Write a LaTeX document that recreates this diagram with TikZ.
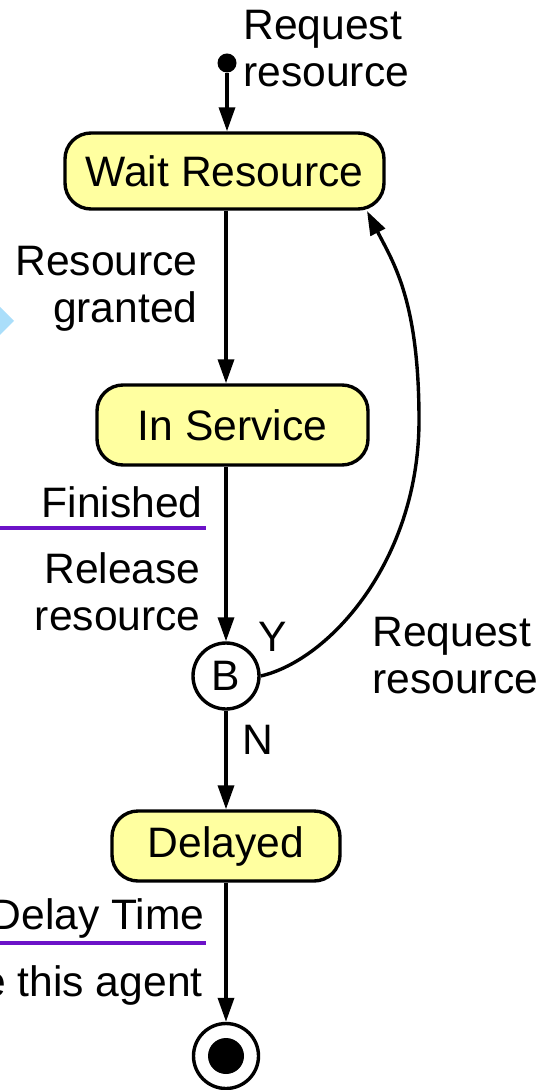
\documentclass[tikz,border=0pt]{standalone}
\usepackage{fontspec}
\setmainfont{Liberation Sans}
\usetikzlibrary{arrows.meta}
\definecolor{stateyellow}{RGB}{255,255,160}
\definecolor{guardpurple}{RGB}{108,18,200}
\definecolor{portblue}{RGB}{170,222,250}
\begin{document}
\begin{tikzpicture}[x=0.5pt,y=-0.5pt,
  font=\fontsize{21.3}{23.5}\selectfont,
  state/.style={draw,line width=1.7pt,fill=stateyellow,rounded corners=13pt,inner sep=0pt},
  branch/.style={draw,circle,line width=1.7pt,inner sep=0pt},
  flow/.style={line width=1.7pt,-{Triangle[length=12pt,width=8pt]}},
  guard/.style={draw=guardpurple,line width=1.6pt},
  lbl/.style={inner sep=0pt}]
\useasboundingbox (0,0) rectangle (552,1090);
\clip (0,0) rectangle (552,1090);

% port marker at the left border
\fill[portblue] (0,307) -- (14,321) -- (0,335) -- cycle;

% states
\node[fill,circle,inner sep=0pt,minimum size=9.5pt] (init) at (227,63) {};
\node[state,minimum width=159.5pt,minimum height=38pt] (wait) at (224.5,171) {Wait Resource};
\node[state,minimum width=135.5pt,minimum height=40pt] (serv) at (232.5,425) {In Service};
\node[branch,minimum size=33pt] (b) at (226,676) {B};
\node[state,minimum width=114pt,minimum height=35pt] (delay) at (226,846) {Delayed};
\node[branch,minimum size=32.5pt] (fin) at (226,1056) {};
\fill (fin) circle (9pt);
\coordinate (waitin) at (367,211);

% transitions
\draw[flow] (init) -- (init |- wait.north);
\draw[flow] (wait.south -| b) -- (serv.north -| b);
\draw[flow] (serv.south -| b) -- (b);
\draw[flow] (b) -- (delay);
\draw[flow] (delay) -- (fin);
\draw[flow] (b.east) .. controls (330,660) and (419,560) .. (419,420)
  .. controls (419,300) and (393,262) .. (waitin);

% labels
\node[lbl,anchor=west,align=left] (lreq) at (243,49) {Request\\resource};
\node[lbl,anchor=east,align=right] (lgrant) at (198,289) {Resource\\granted};
\node[lbl,anchor=east] (lfin) at (203,502) {Finished};
\draw[guard] (0,528) -- (206,528);
\node[lbl,anchor=east,align=right] (lrel) at (201,592) {Release\\resource};
\node[lbl] (ly) at (273,637) {Y};
\node[lbl] (ln) at (258,740) {N};
\node[lbl,anchor=west,align=left] (lreq2) at (372,656) {Request\\resource};
\node[lbl,anchor=east] (ldelay) at (205,918) {Delay Time};
\draw[guard] (0,943) -- (206,943);
\node[lbl,anchor=east] (ldisp) at (203,985) {e this agent};
\end{tikzpicture}
\end{document}
